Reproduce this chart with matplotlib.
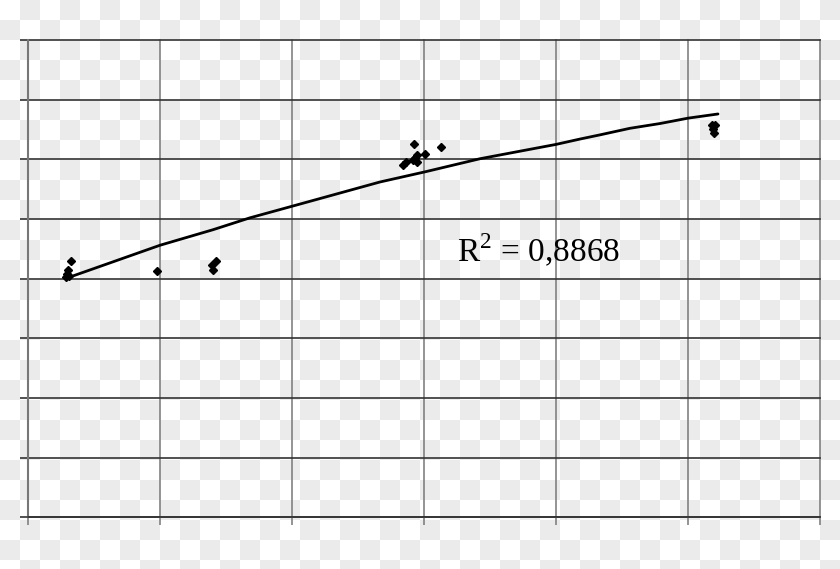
import numpy as np
import matplotlib
matplotlib.use("Agg")
import matplotlib.pyplot as plt

# ------------------------------------------------------------------
# scatter points (grid units)
x_pts = [0.330, 0.307, 0.299, 0.292, 0.314, 0.981, 1.428, 1.398, 1.405,
         2.928, 3.133, 3.011, 2.951, 2.936, 2.920, 2.951, 2.867, 2.845,
         5.186, 5.208, 5.193, 5.201]
y_pts = [4.30, 4.15, 4.08, 4.03, 4.04, 4.13, 4.30, 4.23, 4.15,
         6.26, 6.21, 6.09, 6.07, 6.02, 5.99, 5.96, 5.96, 5.91,
         6.58, 6.58, 6.51, 6.44]

# trend line as drawn in the picture
x_trend = [0.299, 1.004, 1.405, 1.686, 2.064, 2.670, 3.011, 3.428,
           4.004, 4.186, 4.337, 4.564, 4.792, 5.004, 5.231]
y_trend = [4.01, 4.56, 4.82, 5.02, 5.25, 5.62, 5.79, 6.01,
           6.25, 6.34, 6.41, 6.52, 6.60, 6.69, 6.76]

r2_label = "R$^2$ = 0,8868"
# ------------------------------------------------------------------

W, H, DPI = 840, 569, 100

plt.rcParams["mathtext.fontset"] = "custom"
plt.rcParams["mathtext.rm"] = "Liberation Serif"


def main():
    fig = plt.figure(figsize=(W / DPI, H / DPI), dpi=DPI)
    fig.patch.set_facecolor("white")

    # transparency checkerboard seen in the reference
    jj, ii = np.mgrid[0:H, 0:W]
    board = ((ii // 20 + jj // 20) % 2).astype(float)
    img = np.where(board[..., None] > 0, 0.922, 1.0) * np.ones((H, W, 3))
    fig.figimage(img, xo=0, yo=0, origin="upper", zorder=-10)

    left, right = 27.5 / W, 819.5 / W
    bottom, top = (H - 517.3) / H, (H - 40) / H
    ax = fig.add_axes([left, bottom, right - left, top - bottom])
    ax.set_zorder(1)
    ax.set_facecolor("none")

    ax.set_xlim(0, 6)
    ax.set_ylim(0, 8)
    ax.set_xticks(np.arange(0, 7))
    ax.set_yticks(np.arange(0, 9))
    ax.set_xticklabels([])
    ax.set_yticklabels([])

    for x in range(7):
        ax.axvline(x, color="#777777", lw=1.1, zorder=1, clip_on=False)
    for y in range(9):
        ax.axhline(y, color="#333333", lw=1.2, zorder=1, clip_on=False)

    for s in ["top", "right"]:
        ax.spines[s].set_visible(False)
    ax.spines["left"].set_color("#777777")
    ax.spines["left"].set_linewidth(1.5)
    ax.spines["bottom"].set_color("#333333")
    ax.spines["bottom"].set_linewidth(1.2)
    ax.tick_params(axis="x", direction="out", length=6, width=1.1, color="#777777")
    ax.tick_params(axis="y", direction="out", length=5.5, width=1.2, color="#333333")

    ax.plot(x_trend, y_trend, color="black", lw=2.0, zorder=3,
            solid_capstyle="round", solid_joinstyle="round")
    ax.plot(x_pts, y_pts, "D", color="black", ms=4.5, zorder=4)

    ax.text(3.254, 4.28, r2_label, fontsize=24, family="Liberation Serif",
            va="baseline", ha="left", zorder=5)

    fig.savefig("out.png", dpi=DPI)


if __name__ == "__main__":
    main()
